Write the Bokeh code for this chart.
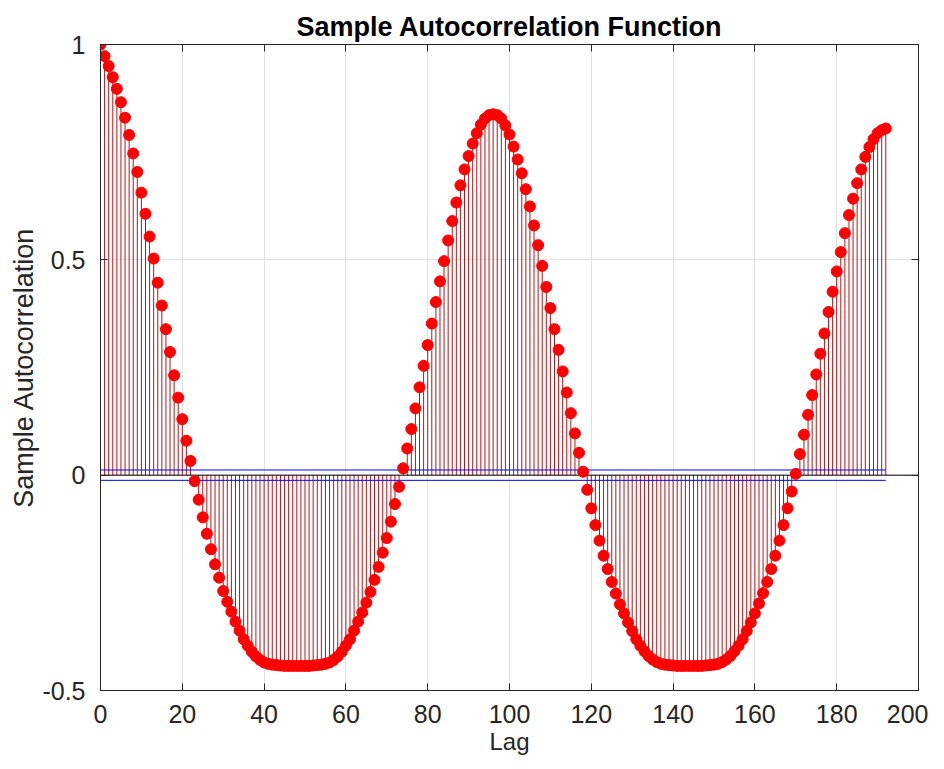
from bokeh.plotting import figure
from bokeh.models import (LinearAxis, FixedTicker, Range1d, NumeralTickFormatter,
                          ColumnDataSource, CustomJSTickFormatter)
from bokeh.embed import file_html
from bokeh.resources import INLINE

# ---- data ----
acf = [
    1.000, 0.973, 0.950, 0.924, 0.897, 0.866, 0.830, 0.790, 0.747, 0.704,
    0.656, 0.607, 0.554, 0.503, 0.447, 0.394, 0.339, 0.286, 0.232, 0.180,
    0.130, 0.080, 0.033, -0.014,
    -0.057, -0.098, -0.136, -0.172, -0.207, -0.238, -0.269, -0.294, -0.317,
    -0.340, -0.361, -0.381, -0.396, -0.410, -0.421, -0.429, -0.435,
    -0.438, -0.440, -0.441, -0.442, -0.443, -0.443, -0.443, -0.443,
    -0.443, -0.443, -0.443, -0.442, -0.441, -0.440, -0.438, -0.435, -0.429,
    -0.421, -0.410, -0.396, -0.381, -0.361, -0.340, -0.319,
    -0.296, -0.271, -0.243, -0.213, -0.180, -0.146, -0.108, -0.067, -0.027,
    0.016, 0.062, 0.107, 0.155, 0.204, 0.254, 0.302, 0.352, 0.402, 0.450,
    0.497, 0.545, 0.590, 0.633, 0.673, 0.710, 0.741, 0.770, 0.794, 0.814,
    0.828, 0.836, 0.838,
    0.836, 0.828, 0.812, 0.791, 0.763, 0.733, 0.701, 0.664, 0.624, 0.580,
    0.534, 0.486, 0.437, 0.388, 0.339, 0.291, 0.241, 0.192, 0.144, 0.097,
    0.052, 0.008, -0.034,
    -0.077, -0.116, -0.152, -0.187, -0.218, -0.248, -0.275, -0.300,
    -0.321, -0.342, -0.362, -0.381, -0.396, -0.409, -0.420, -0.428, -0.434,
    -0.438, -0.440, -0.441, -0.442, -0.443, -0.443, -0.443, -0.443,
    -0.443, -0.443, -0.443, -0.442, -0.441, -0.440, -0.438, -0.434, -0.428,
    -0.420, -0.409, -0.396, -0.381, -0.362, -0.342, -0.321,
    -0.298, -0.274, -0.248, -0.218, -0.187, -0.152, -0.116, -0.077, -0.038,
    0.003, 0.049, 0.094, 0.140, 0.186, 0.234, 0.282, 0.329, 0.379, 0.426,
    0.473, 0.518, 0.562, 0.604, 0.642, 0.678, 0.710, 0.739, 0.762, 0.780,
    0.794, 0.801, 0.805,
]
lags = list(range(len(acf)))
conf_bound = 0.012
x_ticks = [0, 20, 40, 60, 80, 100, 120, 140, 160, 180, 200]
y_ticks = [-0.5, 0, 0.5, 1]
x_limits = (0, 200)
y_limits = (-0.5, 1)

FONT = "Liberation Sans"
AX_COLOR = "#262626"

p = figure(frame_width=818, frame_height=646,
           x_range=Range1d(*x_limits), y_range=Range1d(*y_limits),
           output_backend="svg", toolbar_location=None,
           min_border_left=100, min_border_right=10, min_border_top=44, min_border_bottom=60,
           background_fill_color="white", border_fill_color="white")

p.title.text = "Sample Autocorrelation Function"
p.title.text_font = FONT
p.title.text_font_size = "27px"
p.title.text_font_style = "bold"
p.title.text_color = "black"
p.title.align = "center"
p.title.standoff = 5

p.outline_line_color = AX_COLOR

for ax in (p.xaxis[0], p.yaxis[0]):
    ax.axis_line_color = AX_COLOR
    ax.major_tick_line_color = AX_COLOR
    ax.major_tick_in = 7
    ax.major_tick_out = 0
    ax.minor_tick_line_color = None
    ax.major_label_text_font = FONT
    ax.major_label_text_font_size = "25px"
    ax.major_label_text_color = AX_COLOR
    ax.axis_label_text_font = FONT
    ax.axis_label_text_font_style = "normal"
    ax.axis_label_text_color = AX_COLOR

p.xaxis[0].ticker = FixedTicker(ticks=x_ticks)
p.yaxis[0].ticker = FixedTicker(ticks=y_ticks)
p.yaxis[0].formatter = NumeralTickFormatter(format="0.[0]")
p.xaxis[0].axis_label = "Lag"
p.yaxis[0].axis_label = "Sample Autocorrelation"
p.xaxis[0].axis_label_text_font_size = "24px"
p.yaxis[0].axis_label_text_font_size = "27px"
p.xaxis[0].major_label_standoff = 14
p.yaxis[0].major_label_standoff = 15
p.xaxis[0].axis_label_standoff = 2
p.yaxis[0].axis_label_standoff = 0

blank = CustomJSTickFormatter(code="return '';")
top_ax = LinearAxis(ticker=FixedTicker(ticks=x_ticks), formatter=blank,
                    major_label_standoff=0, major_tick_in=7, major_tick_out=0,
                    minor_tick_line_color=None, axis_line_color=AX_COLOR,
                    major_tick_line_color=AX_COLOR)
right_ax = LinearAxis(ticker=FixedTicker(ticks=y_ticks), formatter=blank,
                      major_label_standoff=0, major_tick_in=7, major_tick_out=0,
                      minor_tick_line_color=None, axis_line_color=AX_COLOR,
                      major_tick_line_color=AX_COLOR)
p.add_layout(top_ax, "above")
p.add_layout(right_ax, "right")

p.xgrid.ticker = FixedTicker(ticks=x_ticks)
p.ygrid.ticker = FixedTicker(ticks=y_ticks)
for g in (p.xgrid[0], p.ygrid[0]):
    g.grid_line_color = "#e2e2e2"
    g.grid_line_width = 1

src = ColumnDataSource(dict(lag=lags, acf=acf, base=[0] * len(lags)))

# stems
p.segment(x0="lag", y0="base", x1="lag", y1="acf", source=src,
          line_color="#b81515", line_width=1)
# baseline across the whole axes
p.segment(x0=[x_limits[0]], y0=[0], x1=[x_limits[1]], y1=[0],
          line_color="black", line_width=1)
# confidence bounds
p.segment(x0=[lags[0], lags[0]], y0=[conf_bound, -conf_bound],
          x1=[lags[-1], lags[-1]], y1=[conf_bound, -conf_bound],
          line_color="#0000ff", line_width=1)
# markers
p.scatter(x="lag", y="acf", source=src, size=11, marker="circle",
          fill_color="#ff0000", line_color="#ff0000")

open("out.html", "w").write(file_html(p, INLINE))
